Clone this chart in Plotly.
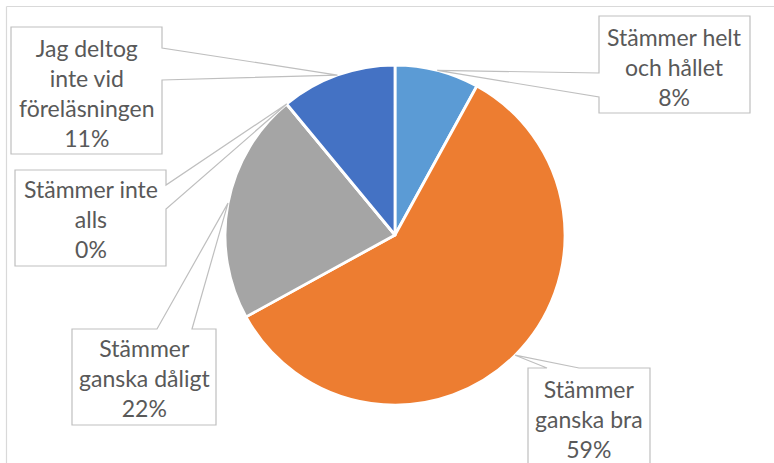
import math
import plotly.graph_objects as go

# ---- data ----
categories = ["Stämmer helt och hållet", "Stämmer ganska bra", "Stämmer ganska dåligt",
              "Stämmer inte alls", "Jag deltog inte vid föreläsningen"]
values = [8, 59, 22, 0, 11]
label_text = ["Stämmer helt<br>och hållet", "Stämmer<br>ganska bra", "Stämmer<br>ganska dåligt",
              "Stämmer inte<br>alls", "Jag deltog<br>inte vid<br>föreläsningen"]
colors = ["#5B9BD5", "#ED7D31", "#A5A5A5", "#FFC000", "#4472C4"]

W, H = 774, 463
CX, CY, R = 395, 235, 170  # pie centre / radius in pixels


def px(x):
    return x / W


def py(y):
    return 1 - y / H


# callout boxes: (x0, y0, x1, y1, side, a, b) attach points along a side
boxes = [
    (599, 16, 750, 113, "left", 73, 97),
    (528, 368, 650, 472, "top", 547, 579),
    (72, 329, 216, 425, "top", 157, 192),
    (15, 170, 166, 266, "right", 185, 209),
    (11, 27, 162, 154, "right", 48, 80),
]
text_centers = [67, 419, 378, 219, 93]

fig = go.Figure(go.Pie(
    labels=categories, values=values, sort=False, direction="clockwise", rotation=0,
    marker=dict(colors=colors, line=dict(color="white", width=2.8)),
    textinfo="none", hoverinfo="label+percent", showlegend=False,
    domain=dict(x=[px(CX - R), px(CX + R)], y=[py(CY + R), py(CY - R)]),
))

total = sum(values)
cum = 0
shapes = []
annotations = []
for i, v in enumerate(values):
    mid = cum + v / 2
    ang = math.radians(mid / total * 360)
    ax = CX + R * math.sin(ang)
    ay = CY - R * math.cos(ang)
    cum += v
    x0, y0, x1, y1, side, a, b = boxes[i]
    if side == "left":
        pts = [(x0, y0), (x1, y0), (x1, y1), (x0, y1), (x0, b), (ax, ay), (x0, a)]
    elif side == "right":
        pts = [(x0, y0), (x1, y0), (x1, a), (ax, ay), (x1, b), (x1, y1), (x0, y1)]
    else:  # top
        pts = [(x0, y0), (a, y0), (ax, ay), (b, y0), (x1, y0), (x1, y1), (x0, y1)]
    path = "M " + " L ".join(f"{px(x):.5f},{py(y):.5f}" for x, y in pts) + " Z"
    shapes.append(dict(type="path", xref="paper", yref="paper", path=path,
                       fillcolor="white", line=dict(color="#BFBFBF", width=1.2), layer="above"))
    pct = round(v / total * 100)
    annotations.append(dict(
        x=px((x0 + x1) / 2), y=py(text_centers[i]), xref="paper", yref="paper",
        text=f"{label_text[i]}<br>{pct}%", showarrow=False, align="center",
        xanchor="center", yanchor="middle",
        font=dict(family="Lato, Calibri, sans-serif", size=23, color="#595959"),
    ))

# chart area border (top and left edges visible)
shapes.append(dict(type="line", xref="paper", yref="paper", x0=px(6.5), x1=px(W + 10),
                   y0=py(6.5), y1=py(6.5), line=dict(color="#D9D9D9", width=1.2)))
shapes.append(dict(type="line", xref="paper", yref="paper", x0=px(6.5), x1=px(6.5),
                   y0=py(6.5), y1=py(H + 10), line=dict(color="#D9D9D9", width=1.2)))

fig.update_layout(
    width=W, height=H, margin=dict(l=0, r=0, t=0, b=0),
    paper_bgcolor="white", plot_bgcolor="white",
    shapes=shapes, annotations=annotations,
)

fig.write_html("out.html", config={"displayModeBar": False},
               post_script=["document.body.style.margin='0';"])
